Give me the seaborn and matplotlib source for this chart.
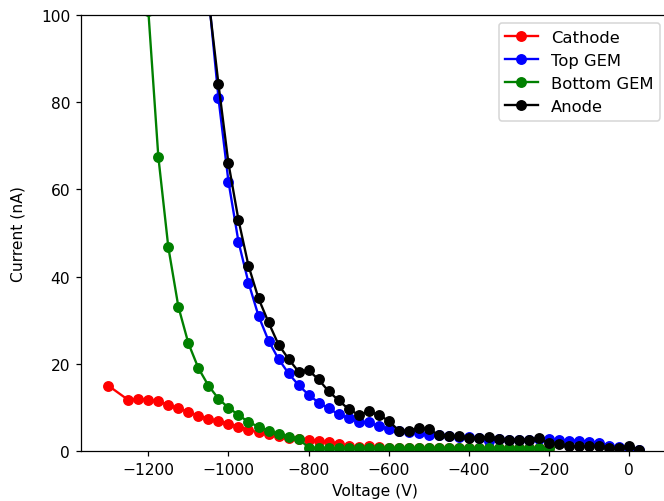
import matplotlib
matplotlib.use("Agg")
import matplotlib.pyplot as plt
import seaborn as sns
import pandas as pd

# ---- data ----
cathode_v = [-1300, -1250, -1225, -1200, -1175, -1150, -1125, -1100, -1075, -1050,
             -1025, -1000, -975, -950, -925, -900, -875, -850, -825, -800,
             -775, -750, -725, -700, -675, -650, -625, -600, -575, -550,
             -525, -500, -475, -450, -425, -400, -375, -350, -325, -300,
             -275, -250, -225, -200]
cathode_i = [15.0, 11.7, 12.0, 11.8, 11.4, 10.6, 9.8, 9.0, 8.1, 7.4,
             6.8, 6.3, 5.6, 4.8, 4.3, 3.9, 3.4, 3.0, 2.8, 2.6,
             2.3, 2.0, 1.7, 1.1, 0.9, 1.2, 1.0, 0.6, 0.6, 0.6,
             0.6, 0.6, 0.6, 0.6, 0.6, 0.6, 0.6, 0.6, 0.6, 0.6,
             0.6, 0.6, 0.6, 0.6]

top_v = [-1050, -1025, -1000, -975, -950, -925, -900, -875, -850, -825,
         -800, -775, -750, -725, -700, -675, -650, -625, -600, -575,
         -550, -525, -500, -475, -450, -425, -400, -375, -350, -325,
         -300, -275, -250, -225, -200, -175, -150, -125, -100, -75,
         -50, -25, 0, 25]
top_i = [105.0, 81.0, 61.8, 48.0, 38.6, 31.0, 25.3, 21.1, 17.8, 15.1,
         12.9, 11.1, 9.8, 8.4, 7.6, 6.6, 6.6, 5.7, 5.0, 4.5,
         4.3, 4.1, 3.7, 3.6, 3.4, 3.3, 3.1, 3.0, 2.4, 2.7,
         2.6, 2.6, 2.6, 2.7, 2.7, 2.5, 2.4, 2.4, 2.1, 1.8,
         1.2, 0.9, 0.8, 0.3]

bottom_v = [-1200, -1175, -1150, -1125, -1100, -1075, -1050, -1025, -1000, -975,
            -950, -925, -900, -875, -850, -825, -800, -775, -750, -725,
            -700, -675, -650, -625, -600, -575, -550, -525, -500, -475,
            -450, -425, -400, -375, -350, -325, -300, -275, -250, -225,
            -200]
bottom_i = [101.0, 67.5, 46.7, 33.1, 24.7, 19.0, 15.0, 12.0, 9.9, 8.3,
            6.6, 5.6, 4.7, 3.9, 3.3, 2.8, 0.8, 0.7, 0.7, 0.6,
            0.7, 0.6, 0.7, 0.6, 0.6, 0.6, 0.6, 0.6, 0.6, 0.6,
            0.6, 0.6, 0.6, 0.6, 0.6, 0.6, 0.6, 0.6, 0.6, 0.6,
            0.6]

anode_v = top_v
anode_i = [104.0, 84.2, 66.0, 53.0, 42.5, 35.0, 29.5, 24.4, 21.1, 18.2,
           18.5, 16.4, 13.7, 11.6, 9.6, 8.3, 9.1, 8.3, 6.9, 4.7,
           4.6, 5.2, 5.0, 3.7, 3.4, 3.4, 3.0, 3.0, 3.3, 2.8,
           2.6, 2.6, 2.6, 2.9, 1.8, 1.5, 1.1, 1.1, 1.1, 1.2,
           0.7, 0.7, 1.2, 0.2]

series = [
    ("Cathode", cathode_v, cathode_i, "red"),
    ("Top GEM", top_v, top_i, "blue"),
    ("Bottom GEM", bottom_v, bottom_i, "green"),
    ("Anode", anode_v, anode_i, "black"),
]

DPI = 112
W, H = 664, 502
fig = plt.figure(figsize=(W / DPI, H / DPI), dpi=DPI)
left, right, top, bottom = 81, 668, 16, 452
ax = fig.add_axes([left / W, (H - bottom) / H, (right - left) / W, (bottom - top) / H])

for name, v, i, c in series:
    df = pd.DataFrame({"Voltage (V)": v, "Current (nA)": i})
    sns.lineplot(data=df, x="Voltage (V)", y="Current (nA)", ax=ax, color=c,
                 marker="o", markersize=6, markeredgecolor=c, markeredgewidth=1,
                 linewidth=1.5, label=name, sort=False, errorbar=None)

ax.set_xlim(-1368, 97)
ax.set_ylim(0, 100)
ax.set_xticks([-1200, -1000, -800, -600, -400, -200, 0])
ax.set_yticks([0, 20, 40, 60, 80, 100])
ax.set_xlabel("Voltage (V)", fontsize=10)
ax.set_ylabel("Current (nA)", fontsize=10, labelpad=10)
ax.tick_params(labelsize=10)
ax.legend(loc="upper right", fontsize=10.5)

fig.savefig("out.png", dpi=DPI)
